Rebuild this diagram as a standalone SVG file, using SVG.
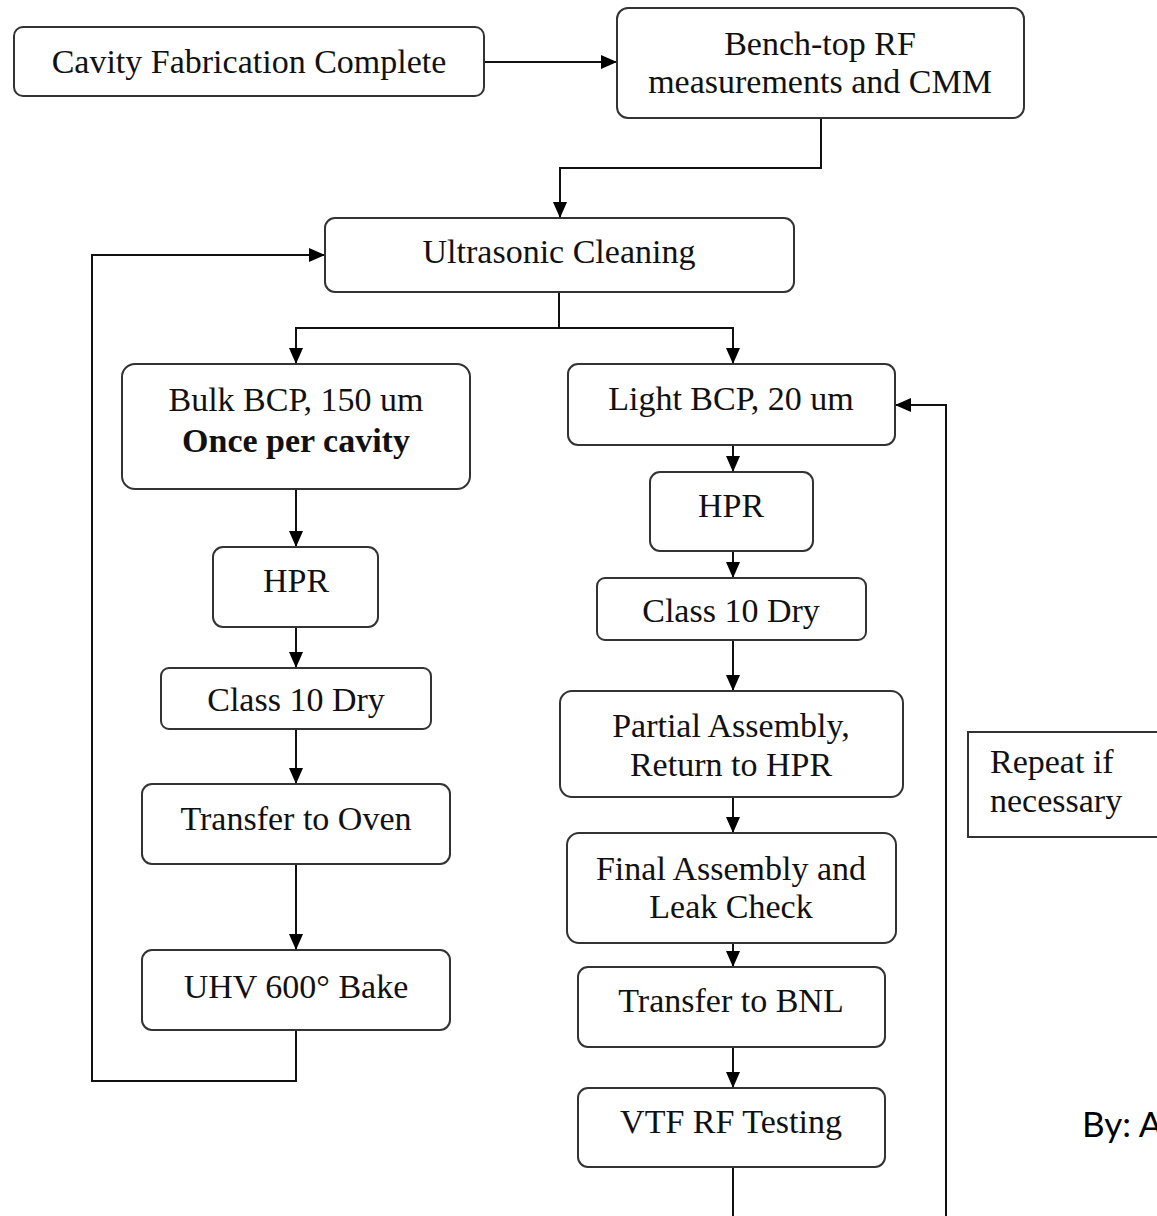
<svg xmlns="http://www.w3.org/2000/svg" width="1157" height="1216" viewBox="0 0 1157 1216">
<style>
.box{fill:#fff;stroke:#333;stroke-width:2}
.t{font-family:"Liberation Serif","Times New Roman",serif;font-size:34px;fill:#111;text-anchor:middle}
.b{font-weight:bold}
.c{fill:none;stroke:#111;stroke-width:2}
</style>
<defs>
<marker id="ah" viewBox="0 0 16 14" refX="16" refY="7" markerWidth="16" markerHeight="14" markerUnits="userSpaceOnUse" orient="auto">
<path d="M0,0 L16,7 L0,14 z" fill="#000"/>
</marker>
</defs>
<rect width="1157" height="1216" fill="#fff"/>
<g id="connectors">
<path class="c" d="M484,62 H617" marker-end="url(#ah)"/>
<path class="c" d="M821,118 V168 H560 V218" marker-end="url(#ah)"/>
<path class="c" d="M559,292 V328 H296 V364" marker-end="url(#ah)"/>
<path class="c" d="M559,328 H733 V364" marker-end="url(#ah)"/>
<path class="c" d="M296,489 V547" marker-end="url(#ah)"/>
<path class="c" d="M296,627 V668" marker-end="url(#ah)"/>
<path class="c" d="M296,729 V784" marker-end="url(#ah)"/>
<path class="c" d="M296,864 V950" marker-end="url(#ah)"/>
<path class="c" d="M296,1030 V1081 H92 V255 H325" marker-end="url(#ah)"/>
<path class="c" d="M733,445 V472" marker-end="url(#ah)"/>
<path class="c" d="M733,551 V578" marker-end="url(#ah)"/>
<path class="c" d="M733,640 V691" marker-end="url(#ah)"/>
<path class="c" d="M733,797 V833" marker-end="url(#ah)"/>
<path class="c" d="M733,943 V967" marker-end="url(#ah)"/>
<path class="c" d="M733,1047 V1088" marker-end="url(#ah)"/>
<path class="c" d="M733,1167 V1216"/>
<path class="c" d="M946,1216 V405 H895" marker-end="url(#ah)"/>
</g>
<g id="n-cavity"><rect class="box" x="14" y="27" width="470" height="69" rx="9"/><text class="t" x="249" y="73">Cavity Fabrication Complete</text></g>
<g id="n-bench"><rect class="box" x="617" y="8" width="407" height="110" rx="11"/><text class="t" x="820" y="55">Bench-top RF</text><text class="t" x="820" y="93">measurements and CMM</text></g>
<g id="n-ultra"><rect class="box" x="325" y="218" width="469" height="74" rx="10"/><text class="t" x="559" y="263">Ultrasonic Cleaning</text></g>
<g id="n-bulk"><rect class="box" x="122" y="364" width="348" height="125" rx="13"/><text class="t" x="296" y="411">Bulk BCP, 150 um</text><text class="t b" x="296" y="452">Once per cavity</text></g>
<g id="n-hpr1"><rect class="box" x="213" y="547" width="165" height="80" rx="10"/><text class="t" x="296" y="592">HPR</text></g>
<g id="n-dry1"><rect class="box" x="161" y="668" width="270" height="61" rx="8"/><text class="t" x="296" y="711">Class 10 Dry</text></g>
<g id="n-oven"><rect class="box" x="142" y="784" width="308" height="80" rx="10"/><text class="t" x="296" y="830">Transfer to Oven</text></g>
<g id="n-bake"><rect class="box" x="142" y="950" width="308" height="80" rx="10"/><text class="t" x="296" y="998">UHV 600° Bake</text></g>
<g id="n-light"><rect class="box" x="568" y="364" width="327" height="81" rx="10"/><text class="t" x="731" y="410">Light BCP, 20 um</text></g>
<g id="n-hpr2"><rect class="box" x="650" y="472" width="163" height="79" rx="10"/><text class="t" x="731" y="517">HPR</text></g>
<g id="n-dry2"><rect class="box" x="597" y="578" width="269" height="62" rx="8"/><text class="t" x="731" y="622">Class 10 Dry</text></g>
<g id="n-partial"><rect class="box" x="560" y="691" width="343" height="106" rx="12"/><text class="t" x="731" y="737">Partial Assembly,</text><text class="t" x="731" y="776">Return to HPR</text></g>
<g id="n-final"><rect class="box" x="567" y="833" width="329" height="110" rx="12"/><text class="t" x="731" y="880">Final Assembly and</text><text class="t" x="731" y="918">Leak Check</text></g>
<g id="n-bnl"><rect class="box" x="578" y="967" width="307" height="80" rx="10"/><text class="t" x="731" y="1012">Transfer to BNL</text></g>
<g id="n-vtf"><rect class="box" x="578" y="1088" width="307" height="79" rx="10"/><text class="t" x="731" y="1133">VTF RF Testing</text></g>
<g id="n-repeat"><rect x="968" y="732" width="200" height="105" fill="#fff" stroke="#333" stroke-width="2"/><text class="t" x="990" y="773" style="text-anchor:start">Repeat if</text><text class="t" x="990" y="812" style="text-anchor:start">necessary</text></g>
<g id="n-by"><text x="1082" y="1137" style="font-family:Lato,'Open Sans',sans-serif;font-size:35px;fill:#000">By: A</text></g>
</svg>
